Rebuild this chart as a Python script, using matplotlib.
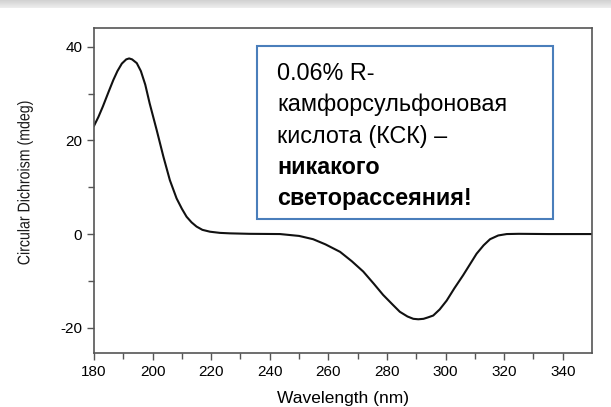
import numpy as np
import matplotlib.pyplot as plt
import matplotlib.transforms as mtransforms
from matplotlib.textpath import TextPath
from matplotlib.patches import PathPatch
from matplotlib.font_manager import FontProperties

plt.rcParams['font.family'] = ['Liberation Sans', 'DejaVu Sans']
plt.rcParams['axes.unicode_minus'] = False

wavelength = [180, 181.5, 183, 185, 186.6, 188, 189.5, 191, 192, 193, 194.6, 196,
              197.5, 199, 201.4, 203.7, 205.9, 208.2, 210, 211.6, 213.3, 215,
              217, 219.6, 223, 226.4, 233, 243.5, 250, 254.8, 259, 264, 268,
              271.9, 275.5, 278.7, 282, 284.4, 287, 289, 290.7, 292.5, 294,
              295.8, 298, 300.4, 303, 306, 308.5, 310.6, 313, 315.2, 318,
              320.9, 325, 335, 350]
cd_mdeg = [23.1, 25.0, 27.2, 30.4, 32.9, 34.8, 36.4, 37.3, 37.5, 37.3, 36.5, 34.8,
           31.9, 27.9, 22.2, 16.5, 11.5, 7.6, 5.4, 3.7, 2.5, 1.6,
           0.9, 0.5, 0.25, 0.15, 0.05, 0.0, -0.4, -1.1, -2.2, -3.8, -5.8,
           -8.0, -10.6, -13.0, -15.1, -16.6, -17.6, -18.1, -18.2, -18.1, -17.8,
           -17.4, -16.1, -14.2, -11.6, -8.8, -6.3, -4.2, -2.4, -1.1, -0.3,
           0.0, 0.05, 0.0, 0.0]

xticks = [180, 200, 220, 240, 260, 280, 300, 320, 340]
yticks = [-20, 0, 20, 40]

W, H = 611, 407
fig = plt.figure(figsize=(W / 100, H / 100), dpi=100)

# grey strip along the top edge
band = fig.add_axes([0, 1 - 8 / H, 1, 8 / H])
grad = np.linspace(0.82, 0.93, 20).reshape(-1, 1)
band.imshow(grad, aspect='auto', cmap='gray', vmin=0, vmax=1,
            extent=[0, 1, 0, 1], origin='upper')
band.axis('off')

ax = fig.add_axes([94 / W, 1 - 353 / H, (592 - 94) / W, (353 - 28) / H])
ax.plot(wavelength, cd_mdeg, color='#111111', lw=1.5)

ax.set_xlim(180, 350)
ax.set_ylim(-25.4, 44)
ax.set_xticks(xticks)
ax.set_xticks(np.arange(190, 350, 20), minor=True)
ax.set_yticks(yticks)
ax.set_yticks([-10, 10, 30], minor=True)
ax.tick_params(which='both', direction='out', top=False, right=False,
               color='#555555', labelsize=11, width=1)
ax.tick_params(which='major', length=5)
ax.tick_params(which='minor', length=4)
for s in ax.spines.values():
    s.set_color('#555555')
    s.set_linewidth(1.2)

ax.set_xlabel('Wavelength (nm)', fontsize=12.5, labelpad=9)

# y label: condensed text drawn as a path, rotated, in pixel coordinates
tp = TextPath((0, 0), 'Circular Dichroism (mdeg)', size=17,
              prop=FontProperties(family='Liberation Sans'))
ext = tp.get_extents()
cx, cy = (ext.x0 + ext.x1) / 2, (ext.y0 + ext.y1) / 2
squeeze = 163 / ext.width
tr = (mtransforms.Affine2D().translate(-cx, -cy).scale(squeeze, 1)
      .rotate_deg(90).translate(25, H - 183))
fig.add_artist(PathPatch(tr.transform_path(tp), facecolor='#1a1a1a', lw=0,
                         transform=mtransforms.IdentityTransform()))

# annotation box
box = plt.Rectangle((257 / W, 1 - 219 / H), (553 - 257) / W, (219 - 46.5) / H,
                    transform=fig.transFigure, fill=True, facecolor='white',
                    edgecolor='#4a7ebb', lw=1.5)
fig.add_artist(box)
lines = ['0.06% R-', 'камфорсульфоновая', 'кислота (КСК) –', 'никакого', 'светорассеяния!']
weights = ['normal', 'normal', 'normal', 'bold', 'bold']
for i, (t, w) in enumerate(zip(lines, weights)):
    fig.text(277 / W, 1 - (73 + 31.5 * i) / H, t, fontsize=16.8, weight=w,
             va='center', ha='left')

fig.savefig('out.png', dpi=100)
